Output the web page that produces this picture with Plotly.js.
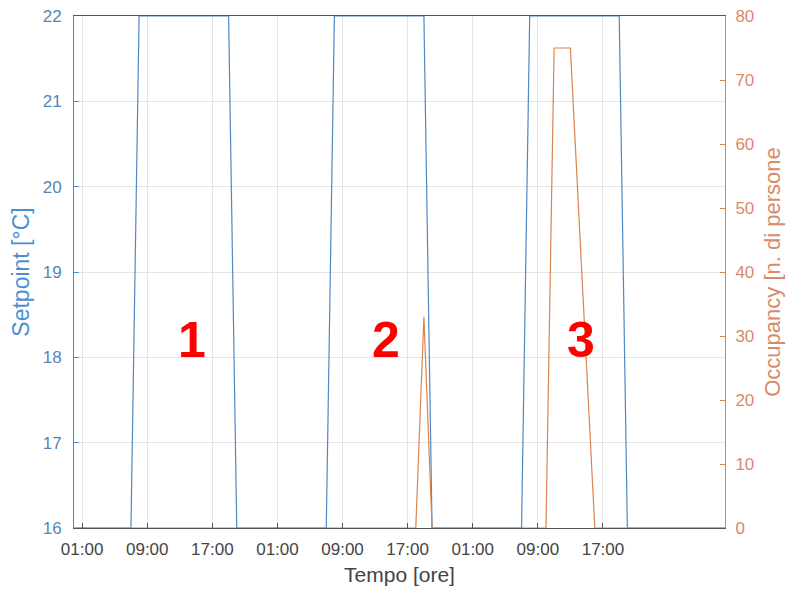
<!DOCTYPE html>
<html>
<head>
<meta charset="utf-8">
<script src="https://cdn.plot.ly/plotly-3.0.1.min.js"></script>
<style>html,body{margin:0;padding:0;background:#fff;}#chart{width:786px;height:591px;}</style>
</head>
<body>
<div id="chart"></div>
<script>
// Time in hours from start
const setpointTime = [0, 7, 8, 19, 20, 31, 32, 43, 44, 55, 56, 67, 68, 80];
const setpointValues = [16, 16, 22, 22, 16, 16, 22, 22, 16, 16, 22, 22, 16, 16];

const occupancyTime = [0, 42, 43, 44, 58, 59, 61, 64, 80];
const occupancyValues = [0, 0, 33, 0, 0, 75, 75, 0, 0];

const xTickHours = [1, 9, 17, 25, 33, 41, 49, 57, 65];
const xTickLabels = ["01:00", "09:00", "17:00", "01:00", "09:00", "17:00", "01:00", "09:00", "17:00"];

const dayLabels = ["1", "2", "3"];
const dayLabelHours = [14.5, 38.4, 62.3];

const blue = "#4f88c0";
const orange = "#d9834f";
const fontFam = "Liberation Sans, Arial, sans-serif";

const traces = [
  {
    x: setpointTime, y: setpointValues, type: "scatter", mode: "lines",
    line: {color: blue, width: 1.2}, yaxis: "y", name: "Setpoint"
  },
  {
    x: occupancyTime, y: occupancyValues, type: "scatter", mode: "lines",
    line: {color: orange, width: 1.2}, yaxis: "y2", name: "Occupancy"
  }
];

const annotations = dayLabels.map((t, i) => ({
  x: dayLabelHours[i], y: 18.2, xref: "x", yref: "y",
  text: t, showarrow: false, xanchor: "center", yanchor: "middle",
  font: {family: fontFam, size: 50, color: "#ff0000", weight: "bold"}
}));

const layout = {
  width: 786, height: 591,
  margin: {l: 74, r: 61, t: 16, b: 63},
  paper_bgcolor: "#ffffff", plot_bgcolor: "#ffffff",
  showlegend: false,
  font: {family: fontFam},
  xaxis: {
    range: [0, 80], tickvals: xTickHours, ticktext: xTickLabels,
    showgrid: true, gridcolor: "#e4e4e4", gridwidth: 1,
    showline: true, linecolor: "#555555", linewidth: 1, mirror: true,
    ticks: "inside", ticklen: 5, tickcolor: "#555555",
    tickfont: {size: 17, color: "#444444"},
    ticklabelstandoff: 6,
    zeroline: false,
    title: {text: "Tempo [ore]", font: {size: 21, color: "#444444"}, standoff: 8}
  },
  yaxis: {
    range: [16, 22], tickvals: [16, 17, 18, 19, 20, 21, 22],
    showgrid: true, gridcolor: "#e4e4e4",
    showline: true, linecolor: blue, linewidth: 1,
    ticks: "inside", ticklen: 5, tickcolor: blue,
    tickfont: {size: 17, color: "#5585b8"},
    ticklabelstandoff: 8,
    zeroline: false,
    title: {text: "Setpoint [°C]", font: {size: 23, color: "#4a90d0"}, standoff: 6}
  },
  yaxis2: {
    range: [0, 80], tickvals: [0, 10, 20, 30, 40, 50, 60, 70, 80],
    overlaying: "y", side: "right",
    showgrid: false,
    showline: true, linecolor: orange, linewidth: 1,
    ticks: "inside", ticklen: 5, tickcolor: orange,
    tickfont: {size: 17, color: "#d98a66"},
    ticklabelstandoff: 6,
    zeroline: false,
    title: {text: "Occupancy [n. di persone", font: {size: 22, color: "#d98a66"}, standoff: 11}
  },
  annotations: annotations
};

Plotly.newPlot("chart", traces, layout, {displayModeBar: false, staticPlot: true});
</script>
</body>
</html>
